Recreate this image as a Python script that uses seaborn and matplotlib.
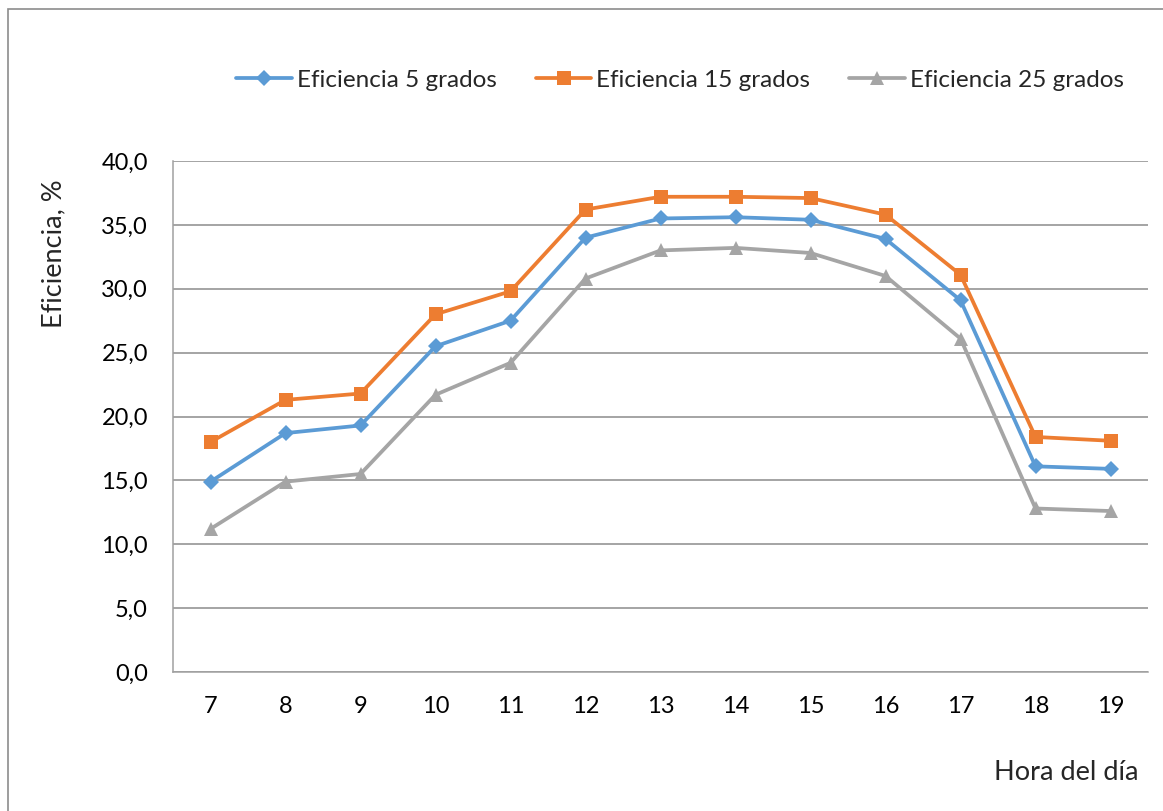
import matplotlib
matplotlib.use("Agg")
import matplotlib.pyplot as plt
from matplotlib.patches import Rectangle
from matplotlib.lines import Line2D
import seaborn as sns
import pandas as pd

# Hourly efficiency data for three panel tilt angles
horas = [7, 8, 9, 10, 11, 12, 13, 14, 15, 16, 17, 18, 19]
ef_5 = [14.9, 18.7, 19.3, 25.5, 27.5, 34.0, 35.5, 35.6, 35.4, 33.9, 29.1, 16.1, 15.9]
ef_15 = [18.0, 21.3, 21.8, 28.0, 29.8, 36.2, 37.2, 37.2, 37.1, 35.8, 31.1, 18.4, 18.1]
ef_25 = [11.2, 14.9, 15.5, 21.7, 24.2, 30.8, 33.0, 33.2, 32.8, 31.0, 26.1, 12.8, 12.6]
series = ["Eficiencia 5 grados", "Eficiencia 15 grados", "Eficiencia 25 grados"]
y_ticks = [0, 5, 10, 15, 20, 25, 30, 35, 40]

colors = {series[0]: "#5B9BD5", series[1]: "#ED7D31", series[2]: "#A5A5A5"}
markers = {series[0]: "D", series[1]: "s", series[2]: "^"}
msizes = {series[0]: 8.5, series[1]: 10, series[2]: 10.5}

df = pd.DataFrame({
    "hora": horas * 3,
    "ef": ef_5 + ef_15 + ef_25,
    "serie": [series[0]] * 13 + [series[1]] * 13 + [series[2]] * 13,
})

sns.set_style("white")
plt.rcParams["font.family"] = ["Lato", "DejaVu Sans"]

W, H = 1163, 811
fig = plt.figure(figsize=(W / 100, H / 100), dpi=100)
x0, x1, y0, y1 = 173, 1148, 161, 672
ax = fig.add_axes([x0 / W, 1 - y1 / H, (x1 - x0) / W, (y1 - y0) / H])

for s in series:
    sub = df[df["serie"] == s]
    sns.lineplot(data=sub, x="hora", y="ef", ax=ax, color=colors[s], lw=2.7,
                 marker=markers[s], markersize=msizes[s], markeredgewidth=0,
                 label=s, legend=False, zorder=3)

ax.set_xlim(6.5, 19.5)
ax.set_ylim(0, 40)
ax.set_yticks(y_ticks)
ax.set_yticklabels([f"{v:.1f}".replace(".", ",") for v in y_ticks])
ax.set_xticks(horas)
ax.set_xticklabels([str(h) for h in horas])
ax.set_xticks([h - 0.5 for h in horas] + [19.5], minor=True)
ax.tick_params(axis="x", which="major", length=0, pad=17, labelsize=17, colors="#000000")
ax.tick_params(axis="x", which="minor", length=7, width=1, color="#a0a0a0", direction="out")
ax.tick_params(axis="y", which="major", length=8, width=1, color="#a0a0a0", direction="out",
               pad=10, labelsize=17, labelcolor="#000000")
ax.set_xlabel("")
ax.set_ylabel("")

ax.grid(axis="y", color="#8c8c8c", lw=1.1)
ax.set_axisbelow(True)
for side in ["top", "right"]:
    ax.spines[side].set_visible(False)
for side in ["left", "bottom"]:
    ax.spines[side].set_color("#a0a0a0")
    ax.spines[side].set_linewidth(1.1)

# Axis titles
fig.text(54 / W, 1 - 254 / H, "Eficiencia, %", rotation=90, ha="center", va="center", fontsize=19.5)
fig.text(1138 / W, 1 - 772 / H, "Hora del día", ha="right", va="center", fontsize=19.5)

# Legend along the top
handles = [Line2D([0], [0], color=colors[s], lw=2.7, marker=markers[s],
                  markersize=msizes[s], markeredgewidth=0) for s in series]
fig.legend(handles, series, loc="center", bbox_to_anchor=(680 / W, 1 - 80 / H), ncol=3,
           frameon=False, fontsize=17.5, handlelength=2.3, handletextpad=0.2,
           columnspacing=1.6)

# Chart area border
fig.patches.append(Rectangle((8 / W, -0.1), 1.2, 1 - 9 / H + 0.1, transform=fig.transFigure,
                             fill=False, edgecolor="#8c8c8c", lw=1.2))

fig.savefig("out.png", dpi=100)
